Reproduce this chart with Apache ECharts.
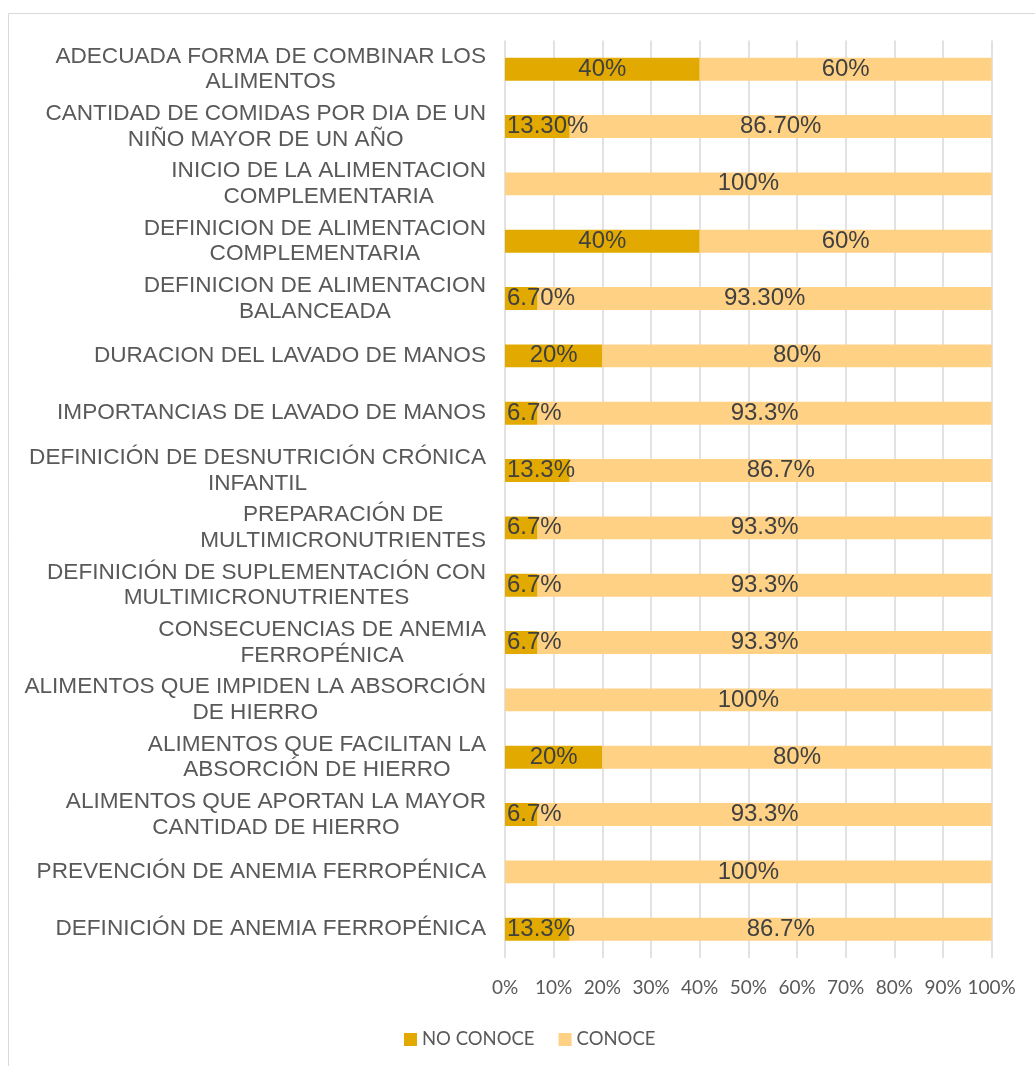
<!DOCTYPE html>
<html>
<head>
<meta charset="utf-8">
<script src="https://cdn.jsdelivr.net/npm/echarts@6/dist/echarts.min.js"></script>
<style>
html,body{margin:0;padding:0;background:#fff;}
#chart{width:1035px;height:1066px;}
</style>
</head>
<body>
<div id="chart"></div>
<script>
var categories = [
  "ADECUADA FORMA DE COMBINAR LOS\nALIMENTOS",
  "CANTIDAD DE COMIDAS POR DIA DE UN\nNIÑO MAYOR DE UN AÑO",
  "INICIO DE LA ALIMENTACION\nCOMPLEMENTARIA",
  "DEFINICION DE ALIMENTACION\nCOMPLEMENTARIA",
  "DEFINICION DE ALIMENTACION\nBALANCEADA",
  "DURACION DEL LAVADO DE MANOS",
  "IMPORTANCIAS DE LAVADO DE MANOS",
  "DEFINICIÓN DE DESNUTRICIÓN CRÓNICA\nINFANTIL",
  "PREPARACIÓN DE\nMULTIMICRONUTRIENTES",
  "DEFINICIÓN DE SUPLEMENTACIÓN CON\nMULTIMICRONUTRIENTES",
  "CONSECUENCIAS DE ANEMIA\nFERROPÉNICA",
  "ALIMENTOS QUE IMPIDEN LA ABSORCIÓN\nDE HIERRO",
  "ALIMENTOS QUE FACILITAN LA\nABSORCIÓN DE HIERRO",
  "ALIMENTOS QUE APORTAN LA MAYOR\nCANTIDAD DE HIERRO",
  "PREVENCIÓN DE ANEMIA FERROPÉNICA",
  "DEFINICIÓN DE ANEMIA FERROPÉNICA"
];
var noConoce = [40, 13.3, 0, 40, 6.7, 20, 6.7, 13.3, 6.7, 6.7, 6.7, 0, 20, 6.7, 0, 13.3];
var conoce   = [60, 86.7, 100, 60, 93.3, 80, 93.3, 86.7, 93.3, 93.3, 93.3, 100, 80, 93.3, 100, 86.7];
var noConoceLabels = ["40%", "13.30%", "", "40%", "6.70%", "20%", "6.7%", "13.3%", "6.7%", "6.7%", "6.7%", "", "20%", "6.7%", "", "13.3%"];
var conoceLabels   = ["60%", "86.70%", "100%", "60%", "93.30%", "80%", "93.3%", "86.7%", "93.3%", "93.3%", "93.3%", "100%", "80%", "93.3%", "100%", "86.7%"];
var xTickLabels = ["0%", "10%", "20%", "30%", "40%", "50%", "60%", "70%", "80%", "90%", "100%"];
var seriesNames = ["NO CONOCE", "CONOCE"];

var chart = echarts.init(document.getElementById('chart'), null, {renderer: 'canvas'});

function mkData(vals, labels, shiftSmall) {
  return vals.map(function (v, i) {
    var item = {value: v, labelText: labels[i]};
    if (shiftSmall && v > 0 && v < 15) {
      item.label = {position: 'insideLeft', distance: 2};
    }
    return item;
  });
}

var labelStyle = {
  show: true,
  position: 'inside',
  fontFamily: 'Liberation Sans, Arial, sans-serif',
  fontSize: 24,
  color: '#404040',
  formatter: function (p) { return p.data.labelText; }
};

var option = {
  animation: false,
  backgroundColor: '#ffffff',
  graphic: [{
    type: 'rect',
    shape: {x: 8.5, y: 13.5, width: 1200, height: 1200},
    style: {fill: 'none', stroke: '#d9d9d9', lineWidth: 1},
    silent: true,
    z: -10
  }],
  grid: {left: 505, right: 43.3, top: 40.5, bottom: 108.1, containLabel: false},
  legend: {
    data: seriesNames,
    left: 399,
    top: 1025,
    itemWidth: 13,
    itemHeight: 13,
    itemGap: 24,
    icon: 'rect',
    textStyle: {fontFamily: 'Lato, sans-serif', fontSize: 18.5, color: '#595959'}
  },
  xAxis: {
    type: 'value',
    min: 0,
    max: 100,
    interval: 10,
    axisLine: {show: false},
    axisTick: {show: false},
    axisLabel: {
      margin: 20,
      fontFamily: 'Lato, sans-serif',
      fontSize: 19,
      color: '#595959',
      formatter: function (v) { return xTickLabels[Math.round(v / 10)]; }
    },
    splitLine: {show: true, lineStyle: {color: '#d9d9d9', width: 1.5}}
  },
  yAxis: {
    type: 'category',
    data: categories,
    inverse: true,
    axisLine: {show: false},
    axisTick: {show: false},
    axisLabel: {
      margin: 19,
      formatter: function (v) {
        return v.split('\n').map(function (l) { return '{c|' + l + '}'; }).join('\n');
      },
      rich: {
        c: {
          align: 'center',
          fontFamily: 'Liberation Sans, Arial, sans-serif',
          fontSize: 22.6,
          lineHeight: 25.7,
          color: '#595959'
        }
      }
    }
  },
  series: [
    {
      name: seriesNames[0],
      type: 'bar',
      stack: 'total',
      barWidth: '40%',
      itemStyle: {color: '#E2AA00'},
      label: labelStyle,
      data: mkData(noConoce, noConoceLabels, true)
    },
    {
      name: seriesNames[1],
      type: 'bar',
      stack: 'total',
      barWidth: '40%',
      itemStyle: {color: '#FFD184'},
      label: labelStyle,
      data: mkData(conoce, conoceLabels, false)
    }
  ]
};
chart.setOption(option);
</script>
</body>
</html>
